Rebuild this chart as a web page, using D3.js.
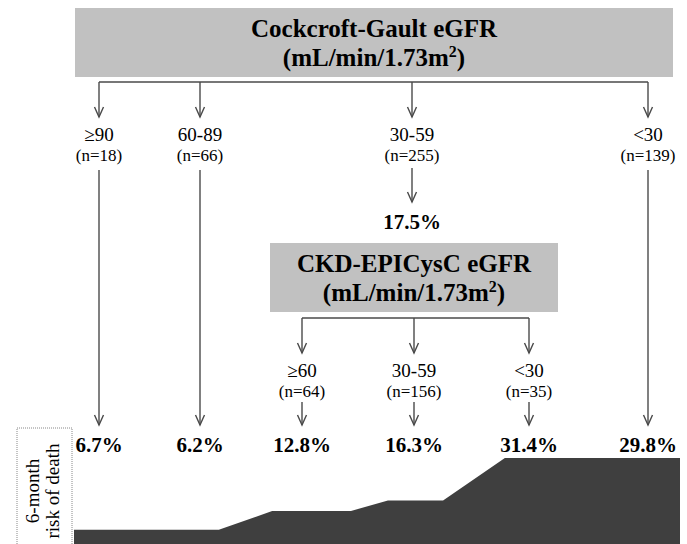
<!DOCTYPE html>
<html>
<head>
<meta charset="utf-8">
<script src="https://cdn.jsdelivr.net/npm/d3@7"></script>
<style>
  body { margin: 0; background: #fff; }
  svg text { font-family: "Liberation Serif", Tinos, "Times New Roman", Times, "DejaVu Serif", serif; }
</style>
</head>
<body>
<div id="chart"></div>
<script>
// data
var cgTitle = ["Cockcroft-Gault eGFR", "(mL/min/1.73m", "2", ")"];
var cgGroups = ["\u226590", "60-89", "30-59", "<30"];
var cgN = [18, 66, 255, 139];
var cgRisk = [6.7, 6.2, 17.5, 29.8];

var cysTitle = ["CKD-EPICysC eGFR", "(mL/min/1.73m", "2", ")"];
var cysGroups = ["\u226560", "30-59", "<30"];
var cysN = [64, 156, 35];
var cysRisk = [12.8, 16.3, 31.4];

// final risk row, left to right
var finalRisk = [6.7, 6.2, 12.8, 16.3, 31.4, 29.8];

// risk profile at the bottom: plateau breakpoints (% of width) and levels
var profileX = [0, 23.9, 32.7, 45.7, 51.8, 60.9, 71.1, 100];
var profileRisk = [
  d3.mean([6.7, 6.2]), d3.mean([6.7, 6.2]),
  12.8, 12.8,
  16.3, 16.3,
  d3.mean([31.4, 29.8]), d3.mean([31.4, 29.8])
];

var width = 687;
var height = 544;
var lineColor = "#4a4a4a";
var boxColor = "#c1c1c1";
var serif = "'Liberation Serif', Tinos, 'Times New Roman', Times, 'DejaVu Serif', serif";

var svg = d3.select("#chart")
  .append("svg")
  .attr("width", width)
  .attr("height", height)
  .attr("font-family", serif)
  .style("font-family", serif);

// column layout
var cgX = [99, 200, 412, 648];
var cysX = [302, 414, 529];
var finalX = [99, 200, 302, 414, 529, 648];

function arrow(x, y1, y2) {
  svg.append("line")
    .attr("x1", x).attr("x2", x)
    .attr("y1", y1).attr("y2", y2)
    .attr("stroke", lineColor)
    .attr("stroke-width", 1.4);
  svg.append("path")
    .attr("d", "M" + (x - 4.5) + "," + (y2 - 10) + "L" + x + "," + y2 + "L" + (x + 4.5) + "," + (y2 - 10))
    .attr("fill", "none")
    .attr("stroke", lineColor)
    .attr("stroke-width", 1.4);
}

function titleBox(x0, x1, y0, y1, title) {
  svg.append("rect")
    .attr("x", x0).attr("y", y0)
    .attr("width", x1 - x0).attr("height", y1 - y0)
    .attr("fill", boxColor);
  var cx = (x0 + x1) / 2;
  svg.append("text")
    .attr("x", cx).attr("y", y0 + 29)
    .attr("text-anchor", "middle")
    .style("font-size", "25px")
    .style("font-weight", "bold")
    .text(title[0]);
  var t = svg.append("text")
    .attr("x", cx).attr("y", y0 + 58)
    .attr("text-anchor", "middle")
    .style("font-size", "25px")
    .style("font-weight", "bold");
  t.append("tspan").text(title[1]);
  t.append("tspan").attr("dy", -9).style("font-size", "16px").text(title[2]);
  t.append("tspan").attr("dy", 9).text(title[3]);
}

function branch(xs, y, yTip) {
  svg.append("line")
    .attr("x1", d3.min(xs)).attr("x2", d3.max(xs))
    .attr("y1", y).attr("y2", y)
    .attr("stroke", lineColor)
    .attr("stroke-width", 1.4);
  xs.forEach(function (x) { arrow(x, y, yTip); });
}

function groupLabels(xs, groups, ns, yBase) {
  svg.selectAll(null)
    .data(groups)
    .enter()
    .append("text")
    .attr("x", (d, i) => xs[i])
    .attr("y", yBase)
    .attr("text-anchor", "middle")
    .style("font-size", "19px")
    .text(d => d);
  svg.selectAll(null)
    .data(ns)
    .enter()
    .append("text")
    .attr("x", (d, i) => xs[i])
    .attr("y", yBase + 20)
    .attr("text-anchor", "middle")
    .style("font-size", "17px")
    .text(d => "(n=" + d + ")");
}

// top tier
titleBox(75, 673, 8, 77, cgTitle);
branch(cgX, 82, 117);
groupLabels(cgX, cgGroups, cgN, 141);

// long arrows straight down to the final row
cgX.forEach(function (x, i) {
  if (i === 2) {
    arrow(x, 168, 202);
  } else {
    arrow(x, 170, 425);
  }
});

svg.append("text")
  .attr("x", cgX[2]).attr("y", 229)
  .attr("text-anchor", "middle")
  .style("font-size", "21px")
  .style("font-weight", "bold")
  .text(cgRisk[2].toFixed(1) + "%");

// second tier
titleBox(270, 558, 243, 312, cysTitle);
branch(cysX, 318, 353);
groupLabels(cysX, cysGroups, cysN, 377);
cysX.forEach(function (x) { arrow(x, 402, 425); });

// final risk row
svg.selectAll(null)
  .data(finalRisk)
  .enter()
  .append("text")
  .attr("x", (d, i) => finalX[i])
  .attr("y", 452)
  .attr("text-anchor", "middle")
  .style("font-size", "21px")
  .style("font-weight", "bold")
  .text(d => d.toFixed(1) + "%");

// risk profile area
var xScale = d3.scaleLinear()
  .domain([0, 100])
  .range([74, 680]);

var yScale = d3.scaleLinear()
  .domain([0, 35])
  .range([549, 445]);

var area = d3.area()
  .x((d, i) => xScale(profileX[i]))
  .y0(yScale(0))
  .y1(d => yScale(d));

svg.append("path")
  .datum(profileRisk)
  .attr("d", area)
  .attr("fill", "#3f3f3f");

// y label box
svg.append("rect")
  .attr("x", 17).attr("y", 428)
  .attr("width", 55).attr("height", 130)
  .attr("fill", "none")
  .attr("stroke", "#888")
  .attr("stroke-width", 1)
  .attr("stroke-dasharray", "1,1");

var ylab = svg.append("text")
  .attr("transform", "translate(0, 491) rotate(-90)")
  .attr("text-anchor", "middle")
  .style("font-size", "19px");
ylab.append("tspan").attr("x", 0).attr("y", 39).text("6-month");
ylab.append("tspan").attr("x", 0).attr("y", 59).text("risk of death");
</script>
</body>
</html>
